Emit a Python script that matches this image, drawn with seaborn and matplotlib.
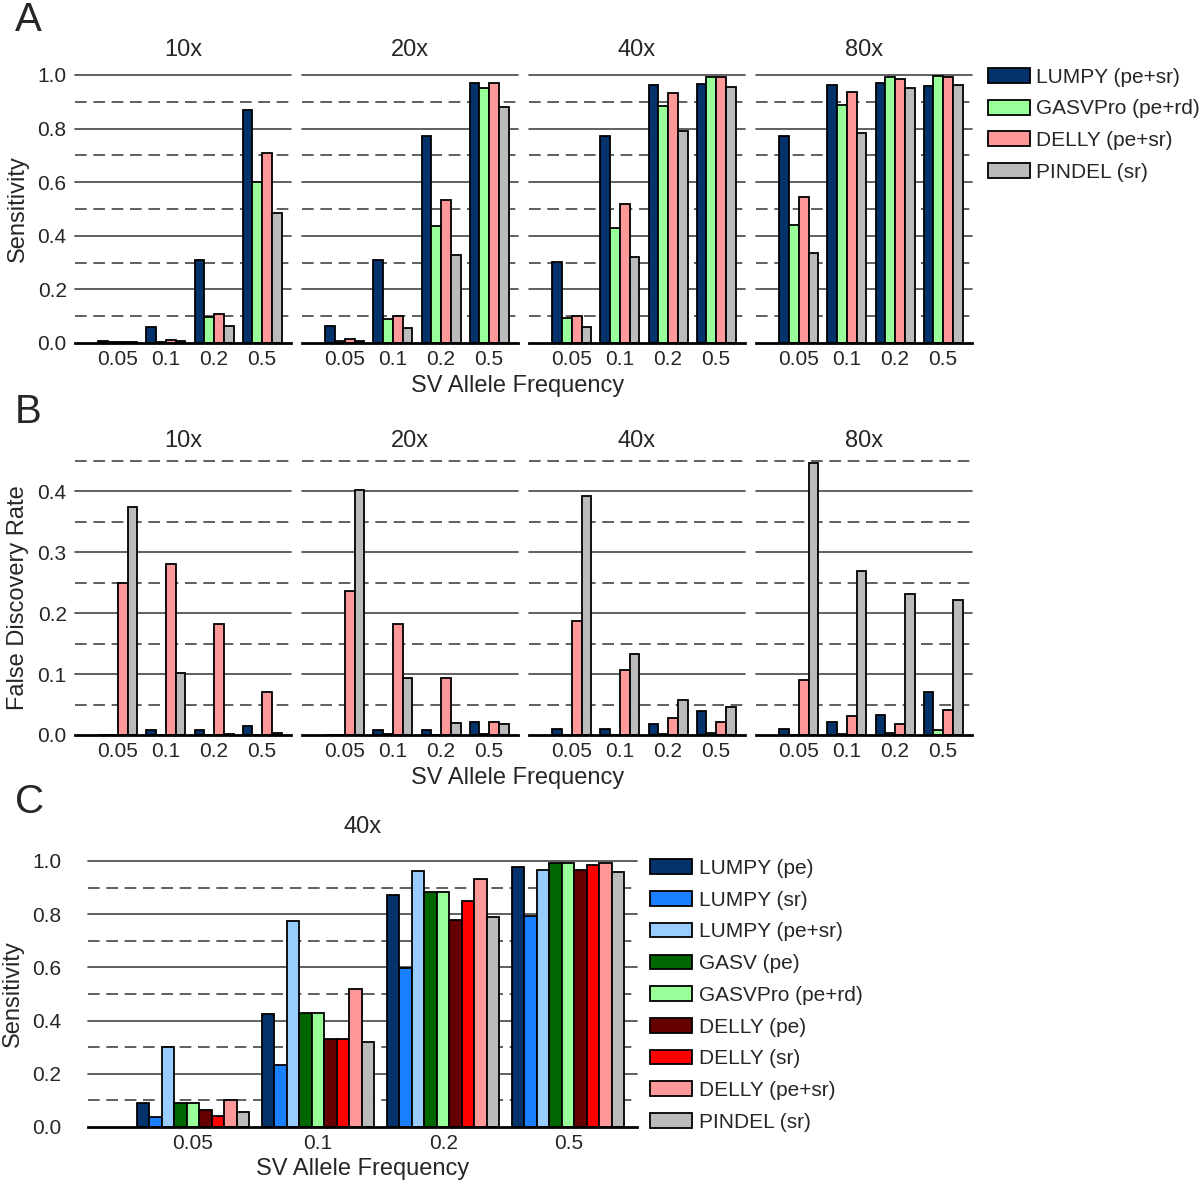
import numpy as np
import pandas as pd
import seaborn as sns
import matplotlib.pyplot as plt
from matplotlib.patches import Patch

# categories
freqs = ['0.05', '0.1', '0.2', '0.5']
coverages = ['10x', '20x', '40x', '80x']

# panel A / B methods
methods_ab = ['LUMPY (pe+sr)', 'GASVPro (pe+rd)', 'DELLY (pe+sr)', 'PINDEL (sr)']
colors_ab = ['#04326a', '#99ff99', '#ff9999', '#bbbbbb']

# panel A: sensitivity, one row per coverage (10x, 20x, 40x, 80x)
sens_lumpy = [[0.006, 0.059, 0.308, 0.869],
              [0.062, 0.308, 0.772, 0.971],
              [0.302, 0.772, 0.961, 0.966],
              [0.774, 0.964, 0.971, 0.960]]
sens_gasvpro = [[0.002, 0.005, 0.096, 0.601],
                [0.006, 0.090, 0.438, 0.953],
                [0.094, 0.430, 0.884, 0.991],
                [0.440, 0.888, 0.991, 0.996]]
sens_delly = [[0.002, 0.012, 0.108, 0.709],
              [0.014, 0.102, 0.535, 0.971],
              [0.102, 0.520, 0.934, 0.991],
              [0.545, 0.938, 0.986, 0.991]]
sens_pindel = [[0.002, 0.007, 0.064, 0.485],
               [0.007, 0.055, 0.330, 0.879],
               [0.059, 0.320, 0.792, 0.956],
               [0.335, 0.782, 0.950, 0.964]]

# panel B: false discovery rate
fdr_lumpy = [[0.0, 0.009, 0.009, 0.014],
             [0.0, 0.008, 0.008, 0.022],
             [0.010, 0.010, 0.018, 0.039],
             [0.010, 0.021, 0.033, 0.071]]
fdr_gasvpro = [[0.0, 0.0, 0.0, 0.0],
               [0.0, 0.002, 0.0, 0.002],
               [0.0, 0.0, 0.002, 0.004],
               [0.0, 0.002, 0.003, 0.009]]
fdr_delly = [[0.250, 0.281, 0.183, 0.071],
             [0.236, 0.182, 0.094, 0.021],
             [0.188, 0.106, 0.028, 0.021],
             [0.091, 0.032, 0.018, 0.041]]
fdr_pindel = [[0.375, 0.102, 0.002, 0.003],
              [0.403, 0.093, 0.019, 0.018],
              [0.392, 0.133, 0.058, 0.046],
              [0.447, 0.270, 0.232, 0.221]]

# panel C: 40x sensitivity, all modes
methods_c = ['LUMPY (pe)', 'LUMPY (sr)', 'LUMPY (pe+sr)', 'GASV (pe)', 'GASVPro (pe+rd)',
             'DELLY (pe)', 'DELLY (sr)', 'DELLY (pe+sr)', 'PINDEL (sr)']
colors_c = ['#04326a', '#1a80ff', '#99ccff', '#006600', '#99ff99',
            '#660000', '#ff0000', '#ff9999', '#bbbbbb']
sens_c = [[0.090, 0.426, 0.873, 0.976],
          [0.039, 0.232, 0.598, 0.794],
          [0.300, 0.773, 0.961, 0.967],
          [0.090, 0.429, 0.883, 0.992],
          [0.090, 0.429, 0.883, 0.992],
          [0.065, 0.331, 0.777, 0.965],
          [0.043, 0.331, 0.851, 0.985],
          [0.100, 0.519, 0.934, 0.992],
          [0.056, 0.320, 0.791, 0.957]]


def long_table(series, methods, cov_idx=None):
    rows = []
    for m, vals in zip(methods, series):
        v = vals if cov_idx is None else vals[cov_idx]
        for f, y in zip(freqs, v):
            rows.append({'freq': f, 'method': m, 'value': y})
    return pd.DataFrame(rows)


def draw_grid(ax, solid, dashed):
    for y in solid:
        ax.axhline(y, color='#444444', lw=1.2, zorder=0, clip_on=False)
    for y in dashed:
        ax.axhline(y, color='#444444', lw=1.2, ls=(0, (7, 4)), zorder=0, clip_on=False)


def style_axis(ax, first, yticks, ylabels, ypad=6):
    ax.set_xlabel('')
    ax.set_ylabel('')
    sns.despine(ax=ax, left=True, top=True, right=True)
    ax.spines['bottom'].set_linewidth(2)
    ax.spines['bottom'].set_color('black')
    ax.tick_params(axis='x', length=0, labelsize=15, pad=5)
    ax.tick_params(axis='y', length=0, labelsize=15, pad=ypad)
    ax.set_yticks(yticks)
    if first:
        ax.set_yticklabels(ylabels)
    else:
        ax.set_yticklabels([])


sns.set_style('white')
plt.rcParams['font.family'] = ['Liberation Sans', 'DejaVu Sans']

W, H = 1200, 1187
fig = plt.figure(figsize=(W / 100, H / 100), dpi=100)


def px_axes(x0, x1, ytop, ybot):
    return fig.add_axes([x0 / W, 1 - ybot / H, (x1 - x0) / W, (ybot - ytop) / H])


panel_x = [(75, 291), (302, 518), (529, 745), (756, 972)]
sens_all = [sens_lumpy, sens_gasvpro, sens_delly, sens_pindel]
fdr_all = [fdr_lumpy, fdr_gasvpro, fdr_delly, fdr_pindel]

ticks_a = [0, 0.2, 0.4, 0.6, 0.8, 1.0]
ticks_b = [0, 0.1, 0.2, 0.3, 0.4]

for i, cov in enumerate(coverages):
    x0, x1 = panel_x[i]
    # panel A
    ax = px_axes(x0, x1, 75, 343)
    df = long_table(sens_all, methods_ab, i)
    sns.barplot(data=df, x='freq', y='value', hue='method', order=freqs,
                hue_order=methods_ab, palette=colors_ab, saturation=1,
                edgecolor='black', linewidth=1.3, width=0.81, errorbar=None,
                legend=False, ax=ax)
    ax.set_xlim(-0.89, 3.6)
    ax.set_ylim(0, 1.0)
    draw_grid(ax, [0.2, 0.4, 0.6, 0.8, 1.0], [0.1, 0.3, 0.5, 0.7, 0.9])
    style_axis(ax, i == 0, ticks_a, ['%.1f' % t for t in ticks_a])
    ax.set_title(cov, fontsize=17, pad=14)
    if i == 0:
        ax.set_ylabel('Sensitivity', fontsize=17, labelpad=6)

    # panel B
    ax = px_axes(x0, x1, 461, 735)
    df = long_table(fdr_all, methods_ab, i)
    sns.barplot(data=df, x='freq', y='value', hue='method', order=freqs,
                hue_order=methods_ab, palette=colors_ab, saturation=1,
                edgecolor='black', linewidth=1.3, width=0.81, errorbar=None,
                legend=False, ax=ax)
    ax.set_xlim(-0.89, 3.6)
    ax.set_ylim(0, 0.45)
    draw_grid(ax, [0.1, 0.2, 0.3, 0.4], [0.05, 0.15, 0.25, 0.35, 0.45])
    style_axis(ax, i == 0, ticks_b, ['%.1f' % t for t in ticks_b])
    ax.set_title(cov, fontsize=17, pad=10)
    if i == 0:
        ax.set_ylabel('False Discovery Rate', fontsize=17, labelpad=6)

fig.text(518 / W, 1 - 386 / H, 'SV Allele Frequency', fontsize=17, ha='center', va='center')
fig.text(518 / W, 1 - 778 / H, 'SV Allele Frequency', fontsize=17, ha='center', va='center')

# panel C
ax = px_axes(88, 637, 861, 1127)
df = long_table(sens_c, methods_c)
sns.barplot(data=df, x='freq', y='value', hue='method', order=freqs,
            hue_order=methods_c, palette=colors_c, saturation=1,
            edgecolor='black', linewidth=1.3, width=0.9, errorbar=None,
            legend=False, ax=ax)
ax.set_xlim(-0.84, 3.55)
ax.set_ylim(0, 1.0)
draw_grid(ax, [0.2, 0.4, 0.6, 0.8, 1.0], [0.1, 0.3, 0.5, 0.7, 0.9])
style_axis(ax, True, ticks_a, ['%.1f' % t for t in ticks_a], ypad=19)
ax.set_title('40x', fontsize=17, pad=20)
ax.set_ylabel('Sensitivity', fontsize=17, labelpad=6)
ax.set_xlabel('SV Allele Frequency', fontsize=17, labelpad=4)

# legends
handles_ab = [Patch(facecolor=c, edgecolor='black', lw=1.3, label=m) for m, c in zip(methods_ab, colors_ab)]
fig.legend(handles=handles_ab, loc='upper left', bbox_to_anchor=(988 / W, 1 - 68 / H),
           frameon=False, fontsize=15, handlelength=2.0, handleheight=0.7,
           handletextpad=0.3, labelspacing=0.6, borderaxespad=0, borderpad=0)
handles_c = [Patch(facecolor=c, edgecolor='black', lw=1.3, label=m) for m, c in zip(methods_c, colors_c)]
fig.legend(handles=handles_c, loc='upper left', bbox_to_anchor=(650 / W, 1 - 859 / H),
           frameon=False, fontsize=15, handlelength=2.0, handleheight=0.7,
           handletextpad=0.35, labelspacing=0.61, borderaxespad=0, borderpad=0)

# panel letters
fig.text(28 / W, 1 - 20 / H, 'A', fontsize=29, ha='center', va='center')
fig.text(28 / W, 1 - 412 / H, 'B', fontsize=29, ha='center', va='center')
fig.text(30 / W, 1 - 802 / H, 'C', fontsize=29, ha='center', va='center')

fig.savefig('out.png', dpi=100)
